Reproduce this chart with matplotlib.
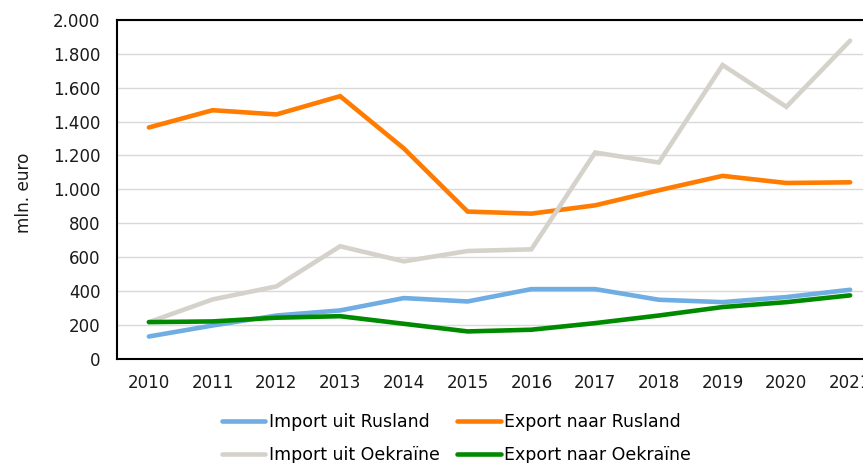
import matplotlib
matplotlib.use("Agg")
import matplotlib.pyplot as plt
from matplotlib.ticker import FuncFormatter

years = [2010, 2011, 2012, 2013, 2014, 2015, 2016, 2017, 2018, 2019, 2020, 2021]
import_rusland = [130, 195, 254, 284, 357, 337, 410, 410, 347, 333, 363, 406]
export_rusland = [1365, 1467, 1442, 1550, 1241, 868, 856, 905, 994, 1079, 1037, 1041]
import_oekraine = [215, 349, 426, 663, 574, 635, 645, 1217, 1158, 1734, 1487, 1878]
export_oekraine = [215, 219, 241, 250, 205, 160, 170, 209, 254, 304, 333, 373]

series = [
    ("Import uit Rusland", import_rusland, "#6FADE3"),
    ("Export naar Rusland", export_rusland, "#FF7C00"),
    ("Import uit Oekraïne", import_oekraine, "#D4D2CA"),
    ("Export naar Oekraïne", export_oekraine, "#008A00"),
]

plt.rcParams["font.family"] = ["DejaVu Sans"]

W, H = 863, 463
fig = plt.figure(figsize=(W / 100, H / 100), dpi=100)
left, right, top, bottom = 117, 882, 20, 358.5
ax = fig.add_axes([left / W, 1 - bottom / H, (right - left) / W, (bottom - top) / H])

x = list(range(len(years)))
handles = []
for label, vals, color in series:
    h, = ax.plot(x, vals, color=color, lw=3.3, solid_capstyle="round",
                 solid_joinstyle="miter", label=label, zorder=3)
    handles.append(h)

ax.set_xlim(-0.5, len(years) - 0.5)
ax.set_ylim(0, 2000)
ax.set_yticks(range(0, 2001, 200))
ax.yaxis.set_major_formatter(FuncFormatter(lambda v, p: f"{int(v):,}".replace(",", ".")))
ax.set_xticks(x)
ax.set_xticklabels([str(y) for y in years])
ax.grid(axis="y", color="#D9D9D9", lw=1.0, zorder=0)
ax.set_axisbelow(True)
ax.tick_params(axis="both", length=0, labelsize=12, colors="#1a1a1a")
ax.tick_params(axis="y", pad=12)
ax.tick_params(axis="x", pad=11)
for s in ax.spines.values():
    s.set_color("black")
    s.set_linewidth(1.5)

fig.text(24 / W, 1 - 193 / H, "mln. euro", rotation=90, ha="center", va="center",
         fontsize=12.2, color="#1a1a1a")

# legend order: row 1 Rusland, row 2 Oekraïne
order = [0, 2, 1, 3]
fig.legend([handles[i] for i in order], [series[i][0] for i in order],
           ncol=2, loc="upper left", bbox_to_anchor=(222 / W, 1 - 413 / H),
           frameon=False, fontsize=12.5, handlelength=2.5, handletextpad=0.2,
           columnspacing=1.0, labelspacing=0.85, borderaxespad=0, borderpad=0)

fig.savefig("out.png", dpi=100)
